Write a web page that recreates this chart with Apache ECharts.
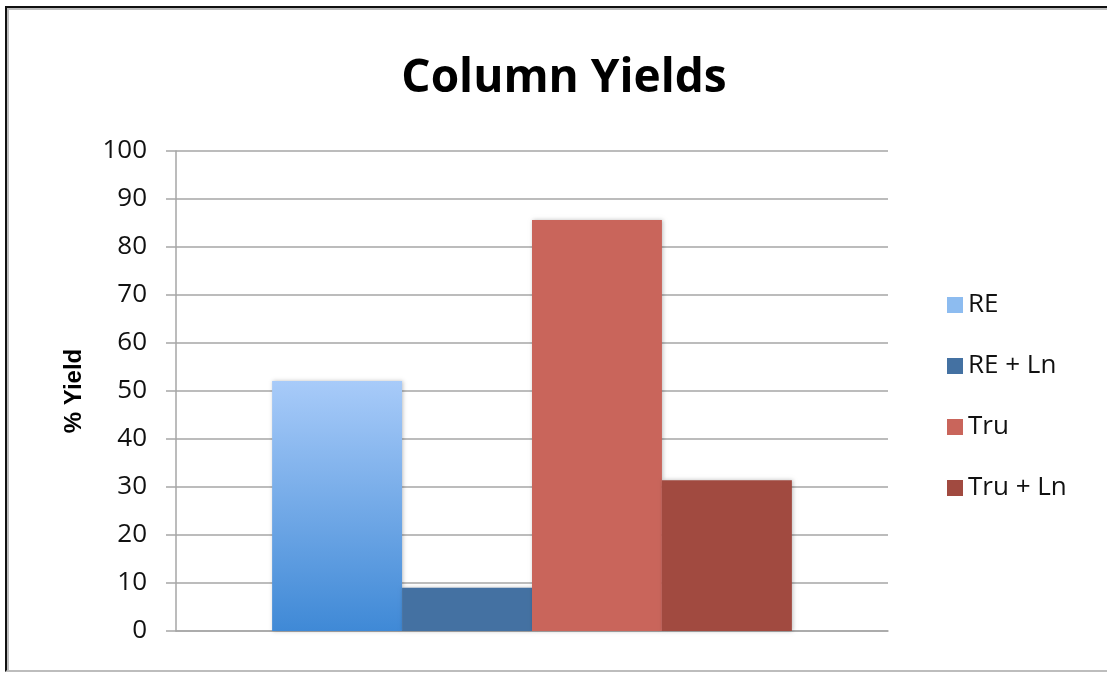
<!DOCTYPE html>
<html>
<head>
<meta charset="utf-8">
<script src="https://cdn.jsdelivr.net/npm/echarts@6/dist/echarts.min.js"></script>
<style>
html,body{margin:0;padding:0;background:#fff;}
#frame{position:absolute;left:5px;top:6px;width:1110px;height:662px;border-top:2px solid #111;border-left:2px solid #111;border-bottom:2px solid #bdbdbd;box-shadow:inset 2px 2px 0 #bdbdbd;}
#chart{position:absolute;left:0;top:0;width:1107px;height:673px;}
</style>
</head>
<body>
<div id="frame"></div>
<div id="chart"></div>
<script>
const categories = ['Yield'];
const seriesNames = ['RE', 'RE + Ln', 'Tru', 'Tru + Ln'];
const reValues = [52.1];
const reLnValues = [9.0];
const truValues = [85.6];
const truLnValues = [31.4];
const yTicks = [0, 10, 20, 30, 40, 50, 60, 70, 80, 90, 100];

const chart = echarts.init(document.getElementById('chart'), null, {renderer: 'canvas'});
const font = 'Open Sans';
const shadow = {shadowColor: 'rgba(0,0,0,0.25)', shadowBlur: 4, shadowOffsetX: 1, shadowOffsetY: 0};
const colors = [
  new echarts.graphic.LinearGradient(0, 0, 0, 1, [{offset: 0, color: '#a8cbf9'}, {offset: 1, color: '#3f89d6'}]),
  '#4471a2', '#c9655b', '#a14a40'
];
const legendColors = ['#8dbcf0', '#4471a2', '#c9655b', '#a14a40'];
const valuesList = [reValues, reLnValues, truValues, truLnValues];

chart.setOption({
  animation: false,
  backgroundColor: 'transparent',
  title: {
    text: 'Column Yields',
    left: 559, top: 51, textAlign: 'center',
    textStyle: {fontFamily: font, fontWeight: 'bold', fontSize: 46, color: '#000'}
  },
  legend: {
    orient: 'vertical', left: 942, top: 287,
    itemWidth: 16, itemHeight: 16, itemGap: 35, itemNameGap: 6,
    textStyle: {fontFamily: font, fontSize: 26, color: '#111'},
    data: seriesNames.map((n, i) => ({name: n, itemStyle: {color: legendColors[i]}, icon: 'rect'}))
  },
  grid: {left: 176, right: 219, top: 151, bottom: 42, containLabel: false},
  xAxis: {
    type: 'category', data: categories,
    axisLine: {show: true, lineStyle: {color: '#a6a6a6', width: 1.5}},
    axisTick: {show: false}, axisLabel: {show: false}
  },
  yAxis: {
    type: 'value', min: 0, max: 100, interval: 10,
    name: '% Yield', nameLocation: 'middle', nameGap: 90, nameRotate: 90,
    nameTextStyle: {fontFamily: 'Liberation Sans', fontWeight: 'bold', fontSize: 24, color: '#000'},
    axisLine: {show: true, lineStyle: {color: '#a6a6a6', width: 1.5}},
    axisTick: {show: true, length: 10, lineStyle: {color: '#a6a6a6', width: 1.5}},
    axisLabel: {margin: 29, fontFamily: font, fontSize: 26, color: '#111',
      formatter: v => yTicks.includes(v) ? String(v) : ''},
    splitLine: {show: true, lineStyle: {color: '#a6a6a6', width: 1.5}}
  },
  series: seriesNames.map((n, i) => ({
    name: n, type: 'bar', data: valuesList[i],
    barGap: '0%', barCategoryGap: '27%',
    itemStyle: Object.assign({color: colors[i]}, shadow)
  }))
});
</script>
</body>
</html>
